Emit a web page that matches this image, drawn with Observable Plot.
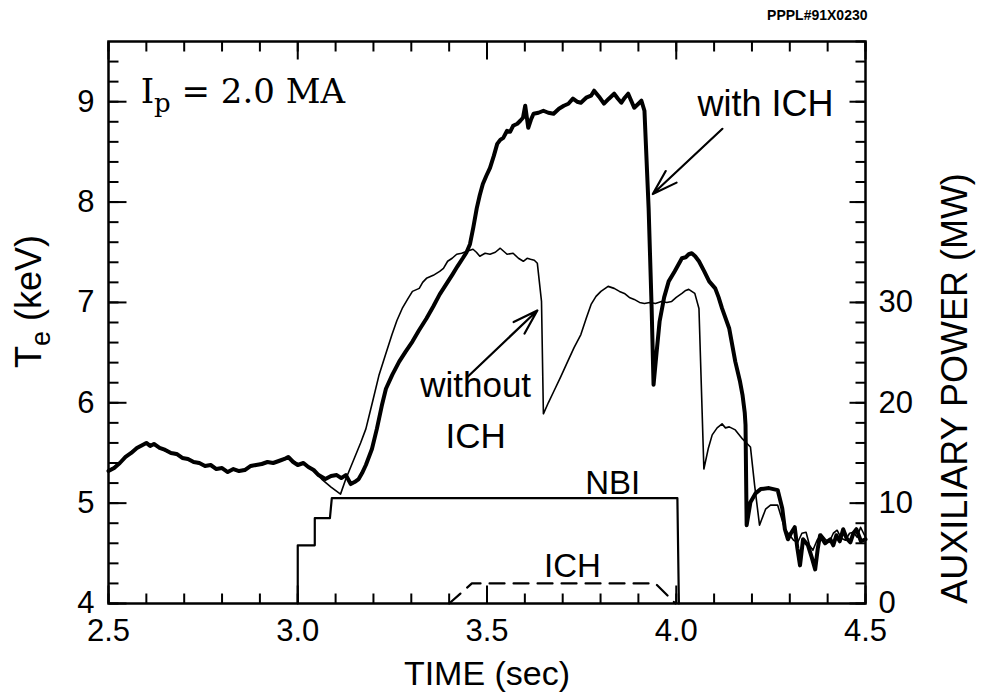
<!DOCTYPE html>
<html><head><meta charset="utf-8">
<script src="https://cdn.jsdelivr.net/npm/d3@7"></script>
<script src="https://cdn.jsdelivr.net/npm/@observablehq/plot@0.6"></script>
<style>body{margin:0;background:#fff;}</style>
</head><body><div id="chart"></div>
<script>
// ---- data ----
const withTime = [2.500,2.515,2.530,2.545,2.560,2.575,2.590,2.600,2.610,2.620,2.635,2.650,2.665,2.680,2.695,2.710,2.725,2.740,2.755,2.770,2.785,2.800,2.815,2.830,2.845,2.860,2.875,2.890,2.905,2.920,2.935,2.950,2.965,2.975,2.988,3.000,3.015,3.028,3.042,3.055,3.073,3.088,3.103,3.115,3.127,3.140,3.150,3.161,3.170,3.180,3.196,3.209,3.222,3.233,3.250,3.268,3.285,3.303,3.320,3.340,3.358,3.375,3.392,3.409,3.422,3.436,3.446,3.455,3.464,3.473,3.481,3.489,3.498,3.508,3.518,3.527,3.535,3.543,3.553,3.561,3.569,3.580,3.588,3.595,3.601,3.609,3.616,3.623,3.636,3.649,3.662,3.676,3.690,3.703,3.715,3.727,3.738,3.748,3.762,3.775,3.783,3.796,3.809,3.822,3.836,3.846,3.855,3.864,3.873,3.881,3.889,3.900,3.908,3.916,3.927,3.935,3.940,3.948,3.956,3.968,3.980,3.996,4.015,4.025,4.033,4.041,4.050,4.060,4.074,4.087,4.103,4.112,4.121,4.140,4.156,4.168,4.175,4.181,4.183,4.186,4.196,4.210,4.223,4.245,4.268,4.280,4.287,4.295,4.303,4.313,4.320,4.327,4.335,4.348,4.358,4.367,4.374,4.380,4.393,4.407,4.415,4.423,4.432,4.441,4.450,4.460,4.468,4.476,4.488,4.500];
const withTe = [5.32,5.35,5.40,5.46,5.50,5.55,5.58,5.60,5.57,5.59,5.55,5.53,5.50,5.49,5.45,5.44,5.41,5.40,5.37,5.38,5.34,5.35,5.31,5.34,5.32,5.33,5.37,5.38,5.39,5.41,5.40,5.42,5.44,5.46,5.41,5.38,5.40,5.36,5.33,5.28,5.24,5.27,5.28,5.25,5.28,5.19,5.21,5.24,5.30,5.38,5.54,5.74,5.97,6.14,6.28,6.41,6.51,6.61,6.72,6.84,6.96,7.08,7.18,7.28,7.36,7.44,7.50,7.58,7.75,7.94,8.07,8.18,8.26,8.34,8.46,8.58,8.62,8.64,8.71,8.70,8.76,8.78,8.81,8.84,8.96,8.74,8.82,8.88,8.89,8.91,8.89,8.88,8.93,8.96,8.98,9.03,9.00,8.99,9.04,9.06,9.11,9.05,8.98,9.03,9.08,9.03,8.99,9.04,9.08,9.01,8.94,8.98,9.01,8.91,7.94,6.94,6.18,6.50,6.81,7.05,7.21,7.31,7.44,7.45,7.48,7.49,7.46,7.41,7.31,7.21,7.14,7.05,6.94,6.74,6.41,6.22,6.08,5.90,5.78,4.78,5.01,5.10,5.14,5.15,5.13,4.95,4.74,4.64,4.70,4.76,4.55,4.38,4.64,4.58,4.46,4.34,4.55,4.68,4.60,4.64,4.58,4.68,4.62,4.74,4.65,4.61,4.70,4.74,4.62,4.64];

const withoutTime = [2.500,2.515,2.530,2.545,2.560,2.575,2.590,2.600,2.610,2.620,2.635,2.650,2.665,2.680,2.695,2.710,2.725,2.740,2.755,2.770,2.785,2.800,2.815,2.830,2.845,2.860,2.875,2.890,2.905,2.920,2.935,2.950,2.965,2.975,2.988,3.000,3.015,3.028,3.042,3.055,3.063,3.088,3.113,3.127,3.140,3.153,3.166,3.180,3.197,3.215,3.232,3.249,3.262,3.276,3.290,3.303,3.321,3.330,3.340,3.358,3.375,3.385,3.396,3.408,3.420,3.433,3.447,3.463,3.472,3.481,3.495,3.508,3.522,3.535,3.544,3.553,3.569,3.583,3.596,3.606,3.615,3.625,3.633,3.644,3.649,3.662,3.676,3.695,3.713,3.730,3.748,3.762,3.775,3.788,3.801,3.820,3.836,3.850,3.863,3.876,3.889,3.903,3.916,3.930,3.945,3.961,3.975,3.988,4.000,4.015,4.025,4.033,4.041,4.049,4.060,4.073,4.085,4.095,4.108,4.121,4.130,4.140,4.156,4.175,4.196,4.207,4.220,4.236,4.249,4.268,4.287,4.300,4.310,4.321,4.332,4.343,4.352,4.361,4.372,4.383,4.394,4.404,4.415,4.425,4.436,4.447,4.458,4.468,4.478,4.487,4.500];
const withoutTe = [5.33,5.36,5.41,5.46,5.51,5.55,5.58,5.59,5.58,5.58,5.55,5.52,5.50,5.48,5.46,5.43,5.41,5.39,5.38,5.37,5.35,5.34,5.32,5.33,5.32,5.34,5.36,5.38,5.40,5.40,5.41,5.42,5.44,5.45,5.42,5.39,5.39,5.36,5.32,5.27,5.24,5.16,5.09,5.24,5.36,5.48,5.60,5.74,6.00,6.28,6.48,6.68,6.82,6.94,7.03,7.11,7.14,7.20,7.24,7.27,7.31,7.34,7.41,7.44,7.48,7.49,7.51,7.53,7.50,7.46,7.49,7.48,7.50,7.54,7.51,7.48,7.49,7.44,7.41,7.44,7.43,7.42,7.39,7.01,5.89,6.00,6.11,6.26,6.41,6.55,6.68,6.84,6.98,7.06,7.11,7.16,7.14,7.11,7.09,7.05,7.03,7.00,6.99,7.00,6.99,7.01,7.00,7.01,7.05,7.09,7.12,7.13,7.11,7.09,6.94,5.34,5.55,5.68,5.75,5.79,5.75,5.76,5.73,5.64,5.56,5.18,4.78,4.94,4.98,4.98,4.74,4.68,4.63,4.61,4.70,4.71,4.58,4.53,4.63,4.69,4.64,4.61,4.70,4.73,4.65,4.63,4.70,4.71,4.66,4.76,4.66];

const nbiTime  = [3.000, 3.000, 3.045, 3.045, 3.085, 3.090, 4.003, 4.007];
const nbiPower = [0, 5.8, 5.8, 8.5, 8.5, 10.5, 10.5, 0];
const ichTime  = [3.400, 3.460, 3.945, 3.998];
const ichPower = [0, 2.0, 2.0, 0];

const xTickLabels = [2.5, 3.0, 3.5, 4.0, 4.5];
const keVTickLabels = [4, 5, 6, 7, 8, 9];
const powerTickLabels = [0, 10, 20, 30];

// ---- layout ----
const W = 981, H = 694, mL = 108, mR = 116, mT = 41, mB = 91;
const fw = W - mL - mR, fh = H - mT - mB;
const X0 = 2.5, X1 = 4.5, Y0 = 4, Y1 = 9.6;
const pw = p => 4 + p / 10;   // auxiliary power (MW) -> position on the keV axis
const kx = (X1 - X0) / fw, ky = (Y1 - Y0) / fh;  // data units per pixel (tick lengths)

const withData = withTime.map((t, i) => ({t, v: withTe[i]}));
const withoutData = withoutTime.map((t, i) => ({t, v: withoutTe[i]}));
const nbiData = nbiTime.map((t, i) => ({t, v: pw(nbiPower[i])}));
const ichData = ichTime.map((t, i) => ({t, v: pw(ichPower[i])}));

const xMajor = xTickLabels, xMinor = d3.range(25, 46).map(d => d / 10);
const yMajor = keVTickLabels, yMinor = d3.range(20, 48).map(d => d / 5);
const pMajor = d3.range(0, 60, 10).map(pw), pMinor = d3.range(0, 57, 2).map(pw);

const sans = "'Liberation Sans', Arial, Helvetica, sans-serif";
const tk = {stroke: "black", strokeWidth: 2};

const chart = Plot.plot({
  width: W, height: H,
  marginLeft: mL, marginRight: mR, marginTop: mT, marginBottom: mB,
  style: {fontFamily: sans, background: "white", color: "black", overflow: "visible"},
  x: {domain: [X0, X1]},
  y: {domain: [Y0, Y1]},
  marks: [
    // tick labels
    Plot.axisX(xTickLabels, {anchor: "bottom", tickSize: 0, tickPadding: 15, fontSize: 31, label: null, tickFormat: d3.format(".1f")}),
    Plot.axisY(keVTickLabels, {anchor: "left", tickSize: 0, tickPadding: 14, fontSize: 31, label: null, tickFormat: d => String(d)}),
    Plot.axisY(powerTickLabels.map(pw), {anchor: "right", tickSize: 0, tickPadding: 13, fontSize: 31, label: null, tickFormat: d => String(Math.round((d - 4) * 10))}),
    // data
    Plot.line(nbiData, {x: "t", y: "v", stroke: "black", strokeWidth: 2.2}),
    Plot.line(ichData, {x: "t", y: "v", stroke: "black", strokeWidth: 2.2, strokeDasharray: "15,9"}),
    Plot.line(withoutData, {x: "t", y: "v", stroke: "black", strokeWidth: 1.6, strokeLinejoin: "round"}),
    Plot.line(withData, {x: "t", y: "v", stroke: "black", strokeWidth: 4, strokeLinejoin: "round"}),
    // annotations
    Plot.arrow([{x1: 4.122, y1: 8.73, x2: 3.938, y2: 8.08}], {x1: "x1", y1: "y1", x2: "x2", y2: "y2", strokeWidth: 2.2, headLength: 18, headAngle: 35}),
    Plot.arrow([{x1: 3.449, y1: 6.26, x2: 3.633, y2: 6.92}], {x1: "x1", y1: "y1", x2: "x2", y2: "y2", strokeWidth: 2.2, headLength: 18, headAngle: 35}),
    Plot.text(["with ICH"], {x: 4.236, y: 8.97, text: d => d, fontSize: 36}),
    Plot.text(["without"], {x: 3.47, y: 6.17, text: d => d, fontSize: 35}),
    Plot.text(["ICH"], {x: 3.47, y: 5.66, text: d => d, fontSize: 35}),
    Plot.text(["NBI"], {x: 3.832, y: pw(12.0), text: d => d, fontSize: 33}),
    Plot.text(["ICH"], {x: 3.726, y: pw(3.7), text: d => d, fontSize: 33}),
    Plot.text(["Ip = 2.0 MA"], {x: 2.585, y: 8.99, text: d => d, textAnchor: "start", lineAnchor: "bottom", fontSize: 34, fontFamily: "'DejaVu Serif', 'Liberation Serif', serif"}),
    // titles
    Plot.text(["TIME (sec)"], {frameAnchor: "bottom", dy: 71, textAnchor: "middle", lineAnchor: "middle", text: d => d, fontSize: 34}),
    Plot.text(["Te (keV)"], {frameAnchor: "left", dx: -79, dy: -21, rotate: -90, textAnchor: "middle", lineAnchor: "middle", text: d => d, fontSize: 36}),
    Plot.text(["AUXILIARY POWER (MW)"], {frameAnchor: "right", dx: 90, dy: 66, rotate: -90, textAnchor: "middle", lineAnchor: "middle", text: d => d, fontSize: 36}),
    Plot.text(["PPPL#91X0230"], {frameAnchor: "top-right", dy: -26, dx: 2, textAnchor: "end", lineAnchor: "middle", text: d => d, fontSize: 14, fontWeight: "bold"}),
    Plot.frame({stroke: "black", strokeWidth: 2.5}),
    // inward ticks (drawn last)
    Plot.link(yMinor, {x1: X0, x2: X0 + 10 * kx, y1: d => d, y2: d => d, ...tk}),
    Plot.link(yMajor, {x1: X0, x2: X0 + 18 * kx, y1: d => d, y2: d => d, ...tk}),
    Plot.link(pMinor, {x1: X1, x2: X1 - 10 * kx, y1: d => d, y2: d => d, ...tk}),
    Plot.link(pMajor, {x1: X1, x2: X1 - 16 * kx, y1: d => d, y2: d => d, ...tk}),
    Plot.link(xMinor, {y1: Y0, y2: Y0 + 10 * ky, x1: d => d, x2: d => d, ...tk}),
    Plot.link(xMajor, {y1: Y0, y2: Y0 + 18 * ky, x1: d => d, x2: d => d, ...tk}),
    Plot.link(xMinor, {y1: Y1, y2: Y1 - 10 * ky, x1: d => d, x2: d => d, ...tk}),
    Plot.link(xMajor, {y1: Y1, y2: Y1 - 18 * ky, x1: d => d, x2: d => d, ...tk})
  ]
});

// subscripts (T_e and I_p)
d3.select(chart).selectAll("text").each(function () {
  const s = this.textContent;
  const el = d3.select(this);
  if (s === "Te (keV)") {
    el.text("");
    el.append("tspan").text("T");
    el.append("tspan").attr("dy", "9px").attr("font-size", "27px").text("e");
    el.append("tspan").attr("dy", "-9px").text(" (keV)");
  } else if (s === "Ip = 2.0 MA") {
    el.text("");
    el.append("tspan").text("I");
    el.append("tspan").attr("dy", "9px").attr("font-size", "26px").text("p");
    el.append("tspan").attr("dy", "-9px").text(" = 2.0 MA");
  }
});

document.getElementById("chart").appendChild(chart);
</script>
</body></html>
